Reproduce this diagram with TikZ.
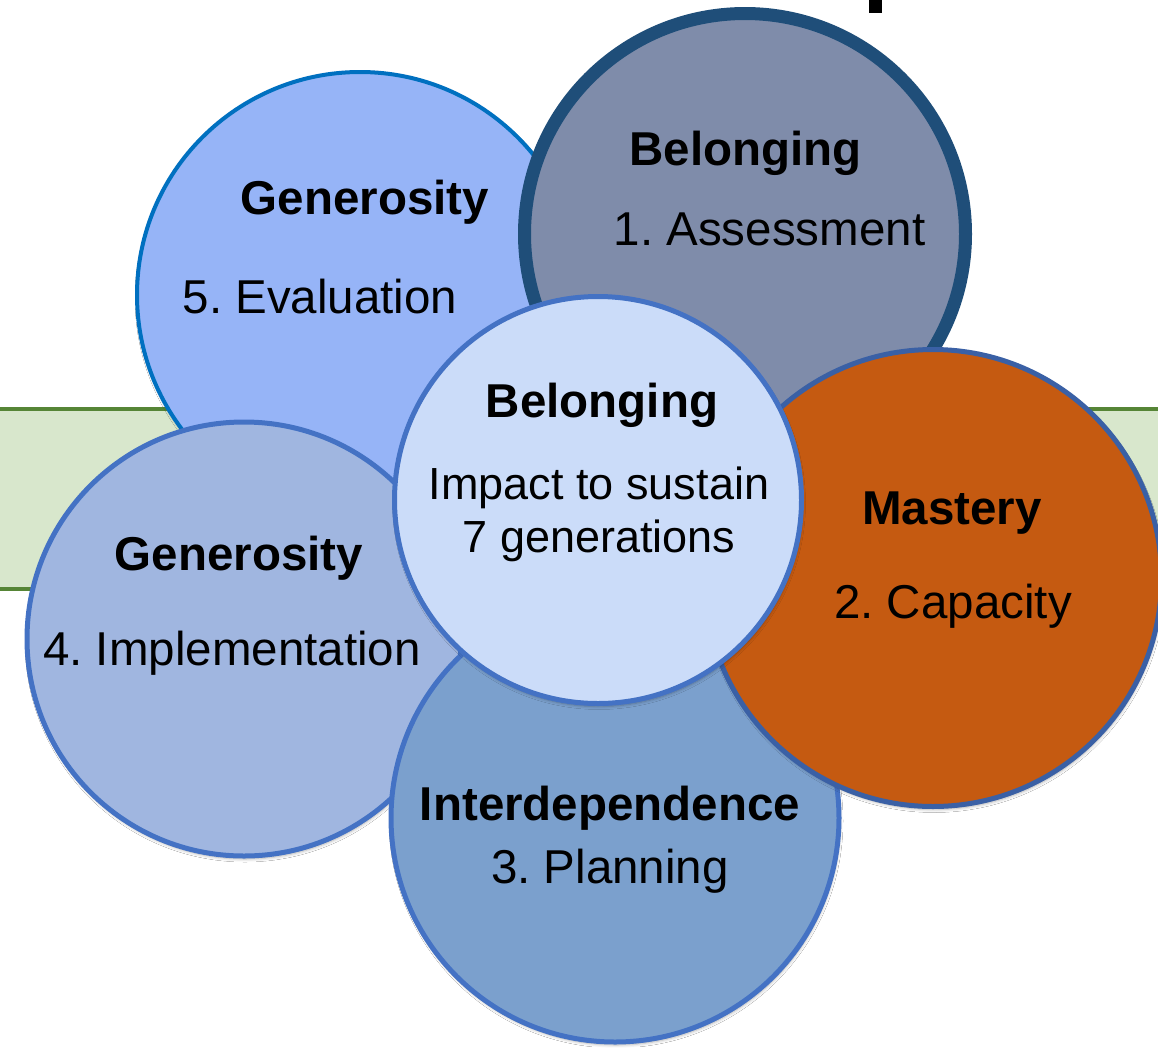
\documentclass[tikz,border=0pt]{standalone}
\usepackage{fontspec}
\setmainfont{Liberation Sans}
\usetikzlibrary{shadows.blur}
\definecolor{genfill}{HTML}{96B4F7}
\definecolor{genline}{HTML}{0070C0}
\definecolor{belfill}{HTML}{7F8CAA}
\definecolor{belline}{HTML}{1F4E79}
\definecolor{impfill}{HTML}{A0B6E0}
\definecolor{bluline}{HTML}{4472C4}
\definecolor{intfill}{HTML}{7BA0CD}
\definecolor{masfill}{HTML}{C55A11}
\definecolor{masline}{HTML}{3A60A5}
\definecolor{cenfill}{HTML}{CBDCF9}
\definecolor{bandfill}{HTML}{D8E7CC}
\definecolor{bandline}{HTML}{568536}
\frenchspacing
\tikzset{
  disc/.style={blur shadow={shadow xshift=1pt,shadow yshift=-3pt,shadow blur steps=6,shadow opacity=30,shadow blur radius=3pt}},
  bold/.style={font=\fontsize{47.5}{57}\selectfont\bfseries,anchor=base,inner sep=0pt,text=black},
  plain/.style={font=\fontsize{47.5}{57}\selectfont,anchor=base,inner sep=0pt,text=black},
  small/.style={font=\fontsize{45}{54}\selectfont,anchor=base,inner sep=0pt,text=black}
}
\begin{document}
\begin{tikzpicture}[x=1pt,y=-1pt]
\useasboundingbox (0,0) rectangle (1158,1047);
\clip (0,0) rectangle (1158,1047);
\fill[white] (0,0) rectangle (1158,1047);
% title fragment
\fill[black] (869,-2) rectangle (882,13);
% band
\draw[line width=4pt,draw=bandline,fill=bandfill] (-10,409) rectangle (1170,589);
% circles
\draw[disc,line width=4pt,draw=genline,fill=genfill] (360,295) circle[radius=223pt];
\draw[disc,line width=13pt,draw=belline,fill=belfill] (745,234) circle[radius=220.5pt];
\draw[disc,line width=5pt,draw=bluline,fill=impfill] (244,639) circle[radius=217pt];
\draw[disc,line width=5pt,draw=bluline,fill=intfill] (615,818) circle[radius=224pt];
\draw[disc,line width=5pt,draw=masline,fill=masfill] (933,578) circle[radius=228.5pt];
\draw[disc,line width=5pt,draw=bluline,fill=cenfill] (598,500) circle[radius=203.5pt];
% texts
\node[bold]  (g5t) at (365,214) {Generosity};
\node[plain] (g5s) at (320,313) {5. Evaluation};
\node[bold]  (b1t) at (745.5,165) {Belonging};
\node[plain] (b1s) at (769.5,245) {1. Assessment};
\node[bold]  (ct)  at (602,417) {Belonging};
\node[small] (cs1) at (599,499) {Impact to sustain};
\node[small] (cs2) at (599,552) {7 generations};
\node[bold]  (mt)  at (952,524) {Mastery};
\node[plain] (ms)  at (953,618) {2. Capacity};
\node[bold]  (g4t) at (239,570) {Generosity};
\node[plain] (g4s) at (232,665) {4. Implementation};
\node[bold]  (it)  at (610,820) {Interdependence};
\node[plain] (is)  at (610,883) {3. Planning};
\end{tikzpicture}
\end{document}
